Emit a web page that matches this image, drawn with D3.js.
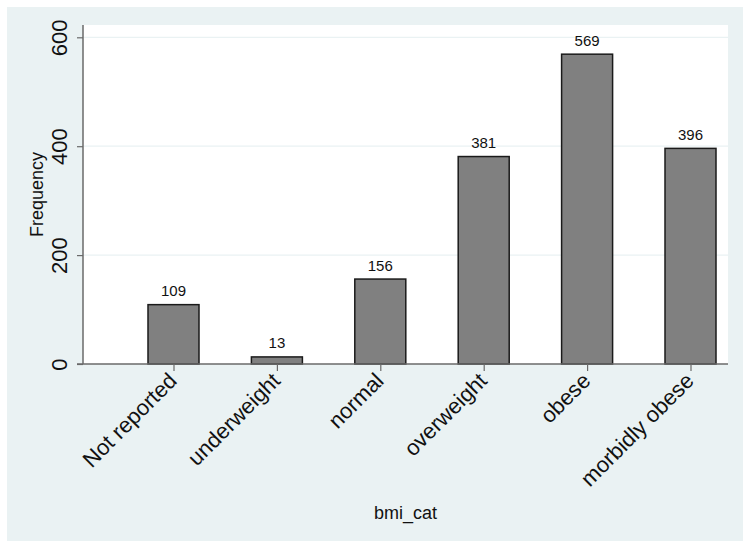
<!DOCTYPE html>
<html><head><meta charset="utf-8">
<script src="https://cdn.jsdelivr.net/npm/d3@7"></script>
<style>body{margin:0;background:#fff}svg{display:block}text{font-family:"Liberation Sans",Arial,Helvetica,sans-serif}</style>
</head><body><svg id="c" width="743" height="543"></svg>
<script>
const categories = ["Not reported","underweight","normal","overweight","obese","morbidly obese"];
const values = [109,13,156,381,569,396];
const yTicks = [0,200,400,600];
const xTitle = "bmi_cat";
const yTitle = "Frequency";

const svg = d3.select("#c");
const W = 743, H = 543;
const plot = {left:83, right:728, top:25, bottom:364};

svg.append("rect").attr("x",7).attr("y",7).attr("width",W-7).attr("height",H-9).attr("fill","#EAF2F3");
svg.append("rect").attr("x",plot.left).attr("y",plot.top).attr("width",plot.right-plot.left).attr("height",plot.bottom-plot.top).attr("fill","#fff");

const y = d3.scaleLinear().domain([0,600]).range([plot.bottom, 37.3]);
const x = d3.scalePoint().domain(categories).range([173.5, 690.5]);
const bw = 51;

// grid
svg.append("g").selectAll("line").data(yTicks.filter(d=>d>0)).join("line")
  .attr("x1",plot.left).attr("x2",plot.right)
  .attr("y1",d=>y(d)).attr("y2",d=>y(d))
  .attr("stroke","#EAF2F3").attr("stroke-width",1.2);

// bars
svg.append("g").selectAll("rect").data(values).join("rect")
  .attr("x",(d,i)=>x(categories[i])-bw/2)
  .attr("y",d=>y(d))
  .attr("width",bw)
  .attr("height",d=>y(0)-y(d))
  .attr("fill","#808080").attr("stroke","#1a1a1a").attr("stroke-width",1.5);

// value labels
svg.append("g").selectAll("text").data(values).join("text")
  .attr("x",(d,i)=>x(categories[i]))
  .attr("y",d=>y(d)-8.5)
  .attr("text-anchor","middle").attr("font-size",15).attr("fill","#111")
  .text(d=>d);

// y axis
const yAxis = svg.append("g").attr("transform",`translate(${plot.left},0)`)
  .call(d3.axisLeft(y).tickValues(yTicks).tickSize(6).tickSizeOuter(0));
yAxis.select(".domain").attr("d",`M0,${plot.top}V${plot.bottom}`).attr("stroke","#6a6a6a").attr("stroke-width",1.5);
yAxis.selectAll(".tick line").attr("stroke","#6a6a6a").attr("stroke-width",1.2);
yAxis.selectAll(".tick text").attr("font-size",22).attr("fill","#111")
  .attr("text-anchor","middle").attr("dy","0")
  .attr("transform","rotate(-90)").attr("x",0).attr("y",-16);

// x axis
const xAxis = svg.append("g").attr("transform",`translate(0,${plot.bottom})`)
  .call(d3.axisBottom(x).tickSize(7).tickSizeOuter(0));
xAxis.select(".domain").attr("d",`M${plot.left-6},0H${plot.right}`).attr("stroke","#6a6a6a").attr("stroke-width",1.5);
xAxis.selectAll(".tick line").attr("stroke","#6a6a6a").attr("stroke-width",1.2);
xAxis.selectAll(".tick text").attr("font-size",22).attr("fill","#111")
  .attr("text-anchor","end").attr("dy","0.72em").attr("y",0).attr("x",0)
  .attr("transform","translate(-7,7) rotate(-45)");

// titles
svg.append("text").attr("x",(plot.left+plot.right)/2).attr("y",519)
  .attr("text-anchor","middle").attr("font-size",18).attr("fill","#111").text(xTitle);
svg.append("text").attr("transform",`translate(43,${(plot.top+plot.bottom)/2}) rotate(-90)`)
  .attr("text-anchor","middle").attr("font-size",18).attr("fill","#111").text(yTitle);
</script></body></html>
